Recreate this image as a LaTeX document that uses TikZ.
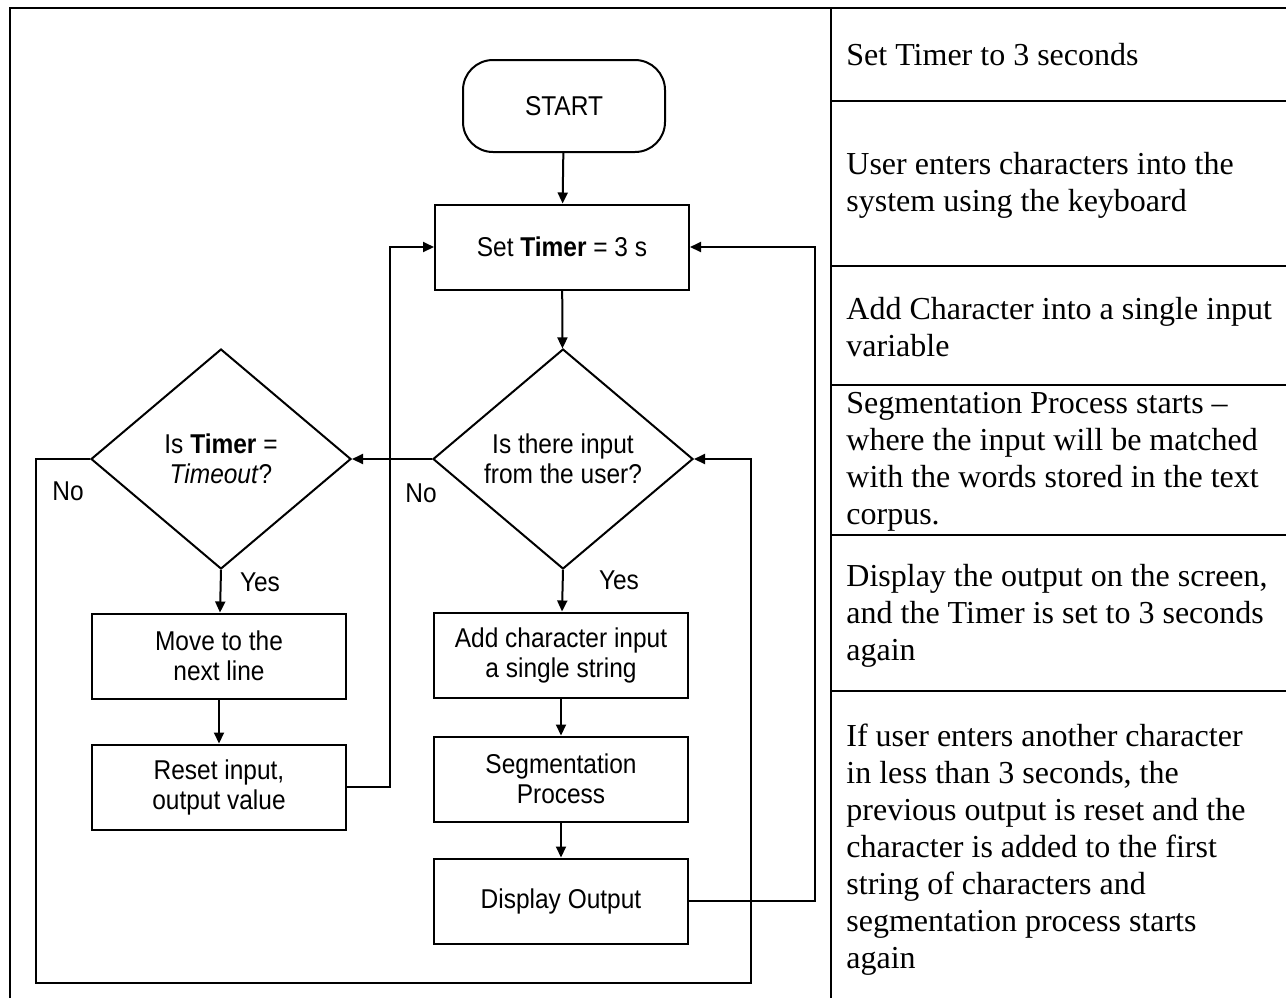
\documentclass[tikz,border=0pt]{standalone}
\usepackage{fontspec}
\setmainfont{Liberation Serif}
\newfontfamily\flowfont[FakeStretch=0.9]{Liberation Sans}
\usetikzlibrary{shapes.geometric,arrows.meta,positioning}

\begin{document}
\begin{tikzpicture}[x=0.5pt,y=-0.5pt,
    flow/.style={font=\flowfont\fontsize{13.6}{15}\selectfont, align=center},
    box/.style={flow, draw, line width=1pt, minimum width=127pt, minimum height=42.5pt, inner sep=0pt},
    startbox/.style={flow, draw, line width=1pt, rounded corners=15pt, minimum width=101pt, minimum height=46pt},
    decision/.style={flow, draw, diamond, line width=1pt, minimum width=130pt, minimum height=110pt, inner sep=0pt},
    arr/.style={line width=1pt, -{Triangle[length=5.5pt,width=5pt]}},
    row/.style={font=\fontsize{16}{18.5}\selectfont, align=left, anchor=west, inner sep=0pt}]
    \useasboundingbox (0,0) rectangle (1286,998);
    % Frame and table grid
    \draw[line width=1pt] (10,998) -- (10,8) -- (1286,8);
    \draw[line width=1.3pt] (831,8) -- (831,998);
    \foreach \y in {101,266,385,535,691} {
        \draw[line width=1.3pt] (831,\y) -- (1286,\y);
    }
    % Flowchart nodes
    \node[startbox] (start) at (564,106) {START};
    \node[box] (setT) at (562,247) {Set \textbf{Timer} = 3 s};
    \node[decision] (input) at (563,459) {Is there input\\from the user?};
    \node[decision] (timer) at (221,459) {Is \textbf{Timer} =\\\textit{Timeout}?};
    \node[box] (move) at (219,656) {Move to the\\next line};
    \node[box] (reset) at (219,787) {Reset input,\\output value};
    \node[box] (add) at (561,655) {Add character input\\a single string};
    \node[box] (seg) at (561,779) {Segmentation\\Process};
    \node[box] (disp) at (561,901) {Display Output};
    % Labels
    \node[flow] (no1) at (421,493) {No};
    \node[flow] (no2) at (68,491) {No};
    \node[flow] (yes1) at (619,580) {Yes};
    \node[flow] (yes2) at (260,582) {Yes};
    % Bend points
    \coordinate (loopL) at (36,983);
    \coordinate (loopR) at (751,983);
    \coordinate (backL) at (390,787);
    \coordinate (backR) at (815,901);
    % Connectors
    \draw[arr] (start) -- (setT);
    \draw[arr] (setT) -- (input);
    \draw[arr] (input.west) -- (timer.east);
    \draw[arr] (timer.south) -- (move);
    \draw[arr] (move) -- (reset);
    \draw[arr] (input.south) -- (add);
    \draw[arr] (add) -- (seg);
    \draw[arr] (seg) -- (disp);
    \draw[arr] (timer.west) -| (loopL) -- (loopR) |- (input.east);
    \draw[arr] (reset.east) -- (backL) |- (setT.west);
    \draw[arr] (disp.east) -- (backR) |- (setT.east);
    % Table text
    \node[row] (r1) at (846,54.5) {Set Timer to 3 seconds};
    \node[row] (r2) at (846,185) {User enters characters into the\\system using the keyboard};
    \node[row] (r3) at (846,327) {Add Character into a single input\\variable};
    \node[row] (r4) at (846,462) {Segmentation Process starts --\\where the input will be matched\\with the words stored in the text\\corpus.};
    \node[row] (r5) at (846,616) {Display the output on the screen,\\and the Timer is set to 3 seconds\\again};
    \node[row] (r6) at (846,850) {If user enters another character\\in less than 3 seconds, the\\previous output is reset and the\\character is added to the first\\string of characters and\\segmentation process starts\\again};
\end{tikzpicture}
\end{document}
